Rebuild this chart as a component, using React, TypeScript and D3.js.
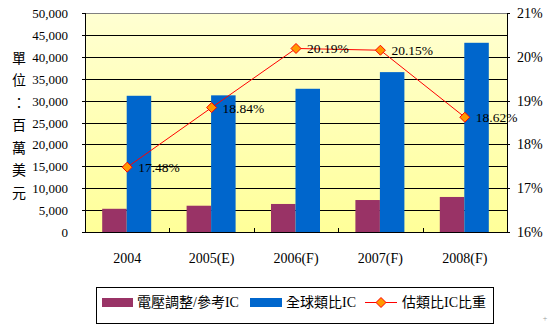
import React from "react";
import * as d3 from "d3";

const categories = ["2004", "2005(E)", "2006(F)", "2007(F)", "2008(F)"];
const regulatorIC = [5300, 6000, 6400, 7300, 8000];
const globalAnalogIC = [31100, 31200, 32700, 36500, 43200];
const share = [17.48, 18.84, 20.19, 20.15, 18.62];
const leftTicks = [0, 5000, 10000, 15000, 20000, 25000, 30000, 35000, 40000, 45000, 50000];
const rightTicks = [16, 17, 18, 19, 20, 21];
const unitLabel = ["單", "位", "：", "百", "萬", "美", "元"];
const seriesNames = ["電壓調整/參考IC", "全球類比IC", "估類比IC比重"];

const W = 549, H = 326;
const L = 85, R = 507, T = 13, B = 232;
const FONT = "'Liberation Serif', 'Noto Sans CJK TC', serif";

export default function App() {
  const x = d3.scaleBand<string>().domain(categories).range([L, R]).padding(0);
  const y = d3.scaleLinear().domain([0, 50000]).range([B, T]);
  const y2 = d3.scaleLinear().domain([16, 21]).range([B, T]);
  const bw = 24.5;
  const cx = (c: string) => (x(c) as number) + x.bandwidth() / 2;
  const fmt = d3.format(",");
  const line = d3
    .line<number>()
    .x((_, i) => cx(categories[i]))
    .y((d) => y2(d));

  const diamond = (px: number, py: number, s = 5) =>
    `M${px},${py - s}L${px + s},${py}L${px},${py + s}L${px - s},${py}Z`;

  return (
    <svg width={W} height={H} style={{ position: "absolute", left: 0, top: 0, background: "#fff" }}>
      <defs>
        <linearGradient id="bg" x1="0" y1="0" x2="0" y2="1">
          <stop offset="0" stopColor="#FFFFD2" />
          <stop offset="1" stopColor="#FFFF99" />
        </linearGradient>
      </defs>
      <rect x={L} y={T} width={R - L} height={B - T} fill="url(#bg)" />
      {leftTicks.slice(1, -1).map((t) => (
        <line key={t} x1={L} x2={R} y1={Math.round(y(t)) + 0.5} y2={Math.round(y(t)) + 0.5} stroke="#000" />
      ))}
      <line x1={L} x2={R} y1={T + 0.5} y2={T + 0.5} stroke="#808080" />
      {leftTicks.map((t) => (
        <line key={"lt" + t} x1={L - 3} x2={L} y1={Math.round(y(t)) + 0.5} y2={Math.round(y(t)) + 0.5} stroke="#000" />
      ))}
      {rightTicks.map((t) => (
        <line key={"rt" + t} x1={R} x2={R + 3} y1={Math.round(y2(t)) + 0.5} y2={Math.round(y2(t)) + 0.5} stroke="#000" />
      ))}
      {categories.map((c, i) => {
        const c0 = cx(c);
        return (
          <g key={c}>
            <rect x={c0 - bw - 0.5} y={y(regulatorIC[i])} width={bw} height={B - y(regulatorIC[i])} fill="#993366" />
            <rect x={c0 - 0.5} y={y(globalAnalogIC[i])} width={bw} height={B - y(globalAnalogIC[i])} fill="#0066CC" />
          </g>
        );
      })}
      {categories.slice(1).map((c) => (
        <line key={"xt" + c} x1={Math.round(x(c) as number) + 0.5} x2={Math.round(x(c) as number) + 0.5} y1={B - 4} y2={B} stroke="#000" />
      ))}
      <line x1={L + 0.5} x2={L + 0.5} y1={T} y2={B + 0.5} stroke="#000" />
      <line x1={R + 0.5} x2={R + 0.5} y1={T} y2={B + 0.5} stroke="#000" />
      <line x1={L} x2={R + 1} y1={B + 0.5} y2={B + 0.5} stroke="#000" />
      <path d={line(share) as string} fill="none" stroke="#FF0000" strokeWidth={1} />
      {share.map((v, i) => {
        const px = cx(categories[i]);
        const py = y2(v);
        return (
          <g key={"m" + i}>
            <path d={diamond(px, py)} fill="#FF9900" stroke="#FF0000" strokeWidth={1} />
            <text x={px + 11} y={py + 5} fontFamily={FONT} fontSize={13.5} fill="#000">
              {v.toFixed(2)}%
            </text>
          </g>
        );
      })}
      {leftTicks.map((t) => (
        <text key={"ll" + t} x={68} y={y(t) + 5} textAnchor="end" fontFamily={FONT} fontSize={13} fill="#000">
          {fmt(t)}
        </text>
      ))}
      {rightTicks.map((t) => (
        <text key={"rl" + t} x={517} y={y2(t) + 5} fontFamily={FONT} fontSize={14} fill="#000">
          {t}%
        </text>
      ))}
      {categories.map((c) => (
        <text key={"xl" + c} x={cx(c)} y={263} textAnchor="middle" fontFamily={FONT} fontSize={14} fill="#000">
          {c}
        </text>
      ))}
      {unitLabel.map((ch, i) => (
        <text key={"u" + i} x={19} y={62.5 + i * 22.5} textAnchor="middle" fontFamily={FONT} fontSize={14} fill="#000">
          {ch}
        </text>
      ))}
      <rect x={96.5} y={287.5} width={397} height={36} fill="#fff" stroke="#000" />
      <rect x={102} y={298} width={31} height={9} fill="#993366" />
      <text x={137} y={307} fontFamily={FONT} fontSize={14} fill="#000">{seriesNames[0]}</text>
      <rect x={250} y={298} width={32} height={9} fill="#0066CC" />
      <text x={286} y={307} fontFamily={FONT} fontSize={14} fill="#000">{seriesNames[1]}</text>
      <line x1={365} x2={397} y1={302.5} y2={302.5} stroke="#FF0000" />
      <path d={diamond(381, 302.5)} fill="#FF9900" stroke="#FF0000" />
      <text x={402} y={307} fontFamily={FONT} fontSize={14} fill="#000">{seriesNames[2]}</text>
      <text x={545} y={321} textAnchor="middle" fontFamily={FONT} fontSize={8} fill="#999">+</text>
    </svg>
  );
}
